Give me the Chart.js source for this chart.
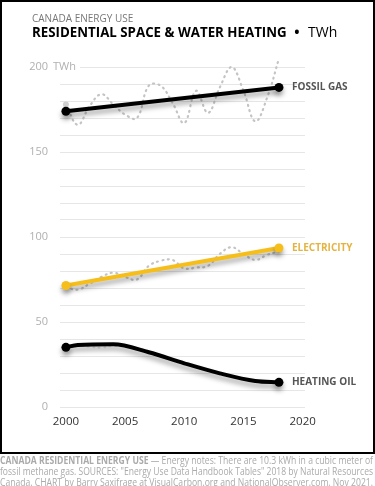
<!DOCTYPE html>
<html><head><meta charset="utf-8">
<script src="https://cdn.jsdelivr.net/npm/chart.js@4"></script>
<style>
html,body{margin:0;padding:0;background:#fff;}
body{width:375px;height:486px;position:relative;overflow:hidden;font-family:"Open Sans",sans-serif;}
#frame{position:absolute;left:0;top:0;width:371px;height:450px;border:2px solid #000;pointer-events:none;}
#sub{position:absolute;left:32px;top:11px;font-size:10px;color:#777;white-space:nowrap;}
#title{position:absolute;left:32px;top:22px;font-size:13.3px;font-weight:bold;color:#000;white-space:nowrap;}
#title span{font-weight:normal;font-size:14px;margin-left:4px;}
#title span b{margin-right:5px;}
#wrap{position:absolute;left:0;top:0;width:375px;height:450px;}
#foot{position:absolute;left:0;top:455px;width:374px;font-size:10px;color:#aaa;line-height:11px;}
#foot div{white-space:nowrap;display:inline-block;transform-origin:0 0;}
#foot b{font-weight:bold;}
</style></head>
<body>
<div id="wrap"><canvas id="c" width="375" height="450"></canvas></div>
<div id="frame"></div>
<div id="sub">CANADA ENERGY USE</div>
<div id="title">RESIDENTIAL SPACE &amp; WATER HEATING <span><b>•</b> TWh</span></div>
<div id="foot">
<div><b>CANADA RESIDENTIAL ENERGY USE</b> — Energy notes: There are 10.3 kWh in a cubic meter of</div><br>
<div>fossil methane gas. SOURCES: "Energy Use Data Handbook Tables" 2018 by Natural Resources</div><br>
<div>Canada. CHART by Barry Saxifrage at VisualCarbon.org and NationalObserver.com. Nov 2021.</div>
</div>
<script>
const years = [2000,2001,2002,2003,2004,2005,2006,2007,2008,2009,2010,2011,2012,2013,2014,2015,2016,2017,2018];
const gasActual  = [178,166,177,184,178,172,170,189,189,179,167,186,173,188,200,186,168,182,205];
const elecActual = [70.6,69,72.5,76.5,79,76.5,75,83,86,86.5,81.5,82,83,90,94,90,86.5,89.5,91.5];
const oilActual  = [35,36,35.5,35,36,35.5,34.5,33,30.5,28,26,23.5,21.5,20,18,16.5,15.5,14.5,14.5];
const trendYears = [2000,2018];
const gasTrend  = [174,188];
const elecTrend = [71.5,93.5];
const oilTrendYears = [2000,2001,2004,2007,2010,2013,2016,2018];
const oilTrend  = [35.1,36.5,36.9,32.2,25.7,19.8,15.3,14.5];
const xTicks = [2000,2005,2010,2015,2020];
const seriesLabels = ['FOSSIL GAS','ELECTRICITY','HEATING OIL'];

document.querySelectorAll('#foot div').forEach(d=>{
  const w = d.getBoundingClientRect().width;
  d.style.transform = 'scaleX(' + (373/w) + ')';
});

const pts = (xs, ys) => xs.map((x,i)=>({x, y: ys[i]}));
const endsOnly = r => (ctx) => (ctx.dataIndex===0 || ctx.dataIndex===ctx.dataset.data.length-1) ? r : 0;

const shadowPlugin = {
  id:'shadow',
  beforeDatasetDraw(chart, args){
    const ds = chart.data.datasets[args.index];
    chart.ctx.save();
    if (ds.shadow){
      chart.ctx.shadowColor='rgba(0,0,0,0.35)';
      chart.ctx.shadowBlur=5;
      chart.ctx.shadowOffsetY=4;
    }
  },
  afterDatasetDraw(chart){ chart.ctx.restore(); }
};
const labelPlugin = {
  id:'labels',
  beforeDatasetsDraw(chart){
    const ctx = chart.ctx, y = chart.scales.y;
    const py = y.getPixelForValue(200);
    ctx.save();
    ctx.fillStyle='#fff';
    ctx.fillRect(y.right-6, py-2, 26, 4);
    ctx.fillStyle='#b0b0b0';
    ctx.font='11px "Open Sans"';
    ctx.textBaseline='middle';
    ctx.textAlign='left';
    ctx.fillText('TWh', y.right-7, py);
    ctx.restore();
  },
  afterDatasetsDraw(chart){
    const ctx = chart.ctx;
    ctx.save();
    ctx.font='bold 10px "Open Sans"';
    ctx.textBaseline='middle';
    ctx.textAlign='left';
    chart.data.datasets.forEach((ds,i)=>{
      if (!ds.endLabel) return;
      const meta = chart.getDatasetMeta(i);
      const p = meta.data[meta.data.length-1];
      ctx.fillStyle = ds.labelColor;
      ctx.fillText(ds.endLabel, p.x+13, p.y);
    });
    ctx.restore();
  }
};

new Chart(document.getElementById('c'), {
  type:'line',
  data:{ datasets:[
    {data:pts(trendYears,gasTrend), borderColor:'#000', backgroundColor:'#000', borderWidth:4, pointRadius:4.5, pointBorderWidth:0, shadow:true, order:0, endLabel:seriesLabels[0], labelColor:'#555'},
    {data:pts(trendYears,elecTrend), borderColor:'#F6BE1A', backgroundColor:'#F6BE1A', borderWidth:4, pointRadius:4.5, pointBorderWidth:0, shadow:true, order:0, endLabel:seriesLabels[1], labelColor:'#E4B443'},
    {data:pts(oilTrendYears,oilTrend), borderColor:'#000', backgroundColor:'#000', borderWidth:4, cubicInterpolationMode:'monotone', pointRadius:endsOnly(4.5), pointBorderWidth:0, shadow:true, order:0, endLabel:seriesLabels[2], labelColor:'#555'},
    {data:pts(years,gasActual), borderColor:'#c4c4c4', backgroundColor:'#cfcfcf', borderWidth:2.2, borderDash:[1,4.5], borderCapStyle:'round', tension:0.4, pointRadius:(c)=>c.dataIndex===0?3:(c.dataIndex===years.length-1?4:0), pointBorderWidth:0, order:1},
    {data:pts(years,elecActual), borderColor:'#c4c4c4', borderWidth:2.2, borderDash:[1,4.5], borderCapStyle:'round', tension:0.4, pointRadius:0, order:1},
    {data:pts(years,oilActual), borderColor:'#e0e0e0', borderWidth:2, borderDash:[1,4.5], borderCapStyle:'round', tension:0.4, pointRadius:0, order:1}
  ]},
  options:{
    responsive:false, animation:false, devicePixelRatio:1,
    layout:{padding:{left:0,right:70,top:67,bottom:0}},
    plugins:{legend:{display:false}, tooltip:{enabled:false}},
    datasets:{line:{clip:false}},
    scales:{
      x:{type:'linear', min:1999.5, max:2020.2,
        afterBuildTicks:(s)=>{ s.ticks = xTicks.map(v=>({value:v})); },
        afterFit:(s)=>{ s.height = 43; },
        grid:{display:false, drawTicks:false}, border:{display:false},
        ticks:{padding:8, color:'#333', font:{family:'"Open Sans"', size:11.5}, callback:(v)=>String(v), maxRotation:0, autoSkip:false}},
      y:{min:0, max:200,
        afterFit:(s)=>{ s.width = 60; },
        grid:{color:'#e6e6e6', lineWidth:1, drawTicks:false}, border:{display:false},
        ticks:{stepSize:10, autoSkip:false, padding:12, color:'#b0b0b0', font:{family:'"Open Sans"', size:11}, callback:(v)=> v%50===0 ? String(v) : ''}}
    }
  },
  plugins:[shadowPlugin, labelPlugin]
});
</script>
</body></html>
